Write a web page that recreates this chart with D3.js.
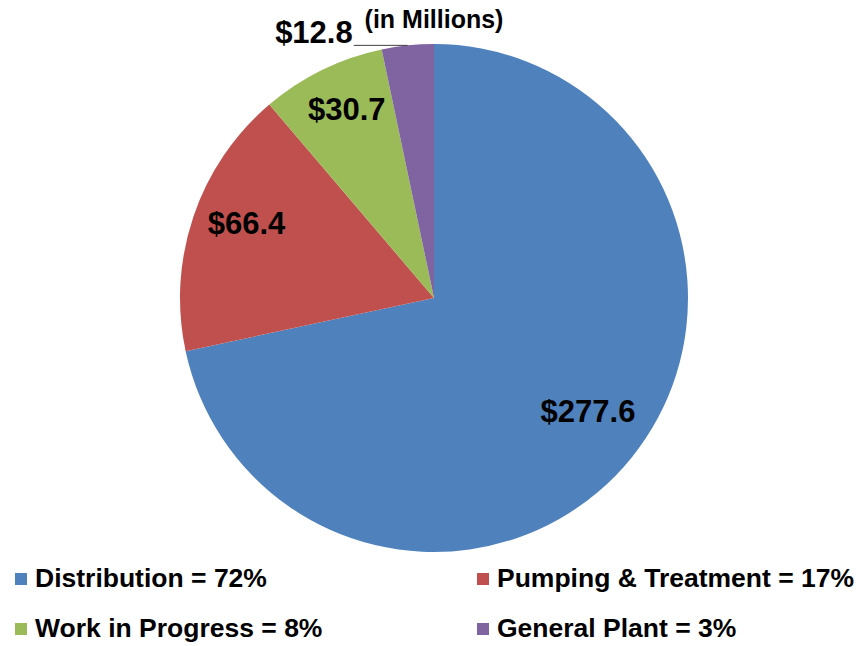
<!DOCTYPE html>
<html>
<head>
<meta charset="utf-8">
<script src="https://cdn.jsdelivr.net/npm/d3@7"></script>
<style>
  html, body { margin: 0; padding: 0; background: #fff; }
  svg text { font-family: "Liberation Sans", Arial, sans-serif; font-weight: bold; fill: #000; }
</style>
</head>
<body>
<div id="chart"></div>
<script>
// values in millions of dollars
const categories = ["Distribution", "Pumping & Treatment", "Work in Progress", "General Plant"];
const values = [277.6, 66.4, 30.7, 12.8];
const colors = ["#4F81BD", "#C0504D", "#9BBB59", "#8064A2"];
const subtitle = "(in Millions)";

const width = 862, height = 646;
const cx = 434, cy = 298, radius = 254;

const svg = d3.select("#chart")
  .append("svg")
  .attr("width", width)
  .attr("height", height);

const total = d3.sum(values);
const data = categories.map((c, i) => ({ name: c, value: values[i], color: colors[i] }));

const pie = d3.pie().value(d => d.value).sort(null);
const arcs = pie(data);
const arc = d3.arc().innerRadius(0).outerRadius(radius);
const labelArc = d3.arc().innerRadius(198).outerRadius(198);

const g = svg.append("g").attr("transform", "translate(" + cx + "," + cy + ")");

// slices
g.selectAll("path")
  .data(arcs)
  .enter()
  .append("path")
  .attr("d", arc)
  .attr("fill", d => d.data.color);

// labels inside slices (the small last one goes outside with a leader)
const fmt = d => "$" + d3.format(".1f")(d.data.value);
const inside = arcs.slice(0, 3);
g.selectAll("text.val")
  .data(inside)
  .enter()
  .append("text")
  .attr("class", "val")
  .attr("x", d => labelArc.centroid(d)[0])
  .attr("y", d => labelArc.centroid(d)[1])
  .attr("text-anchor", "middle")
  .style("font-size", "31px")
  .text(fmt);

// outside label for General Plant
const last = arcs[3];
const mid = (last.startAngle + last.endAngle) / 2;
const edgeX = Math.sin(mid) * radius, edgeY = -Math.cos(mid) * radius;
g.append("line")
  .attr("x1", edgeX).attr("y1", edgeY)
  .attr("x2", edgeX - 54).attr("y2", edgeY)
  .attr("stroke", "#404040")
  .attr("stroke-width", 1);
g.append("text")
  .attr("x", edgeX - 55)
  .attr("y", edgeY - 2)
  .attr("text-anchor", "end")
  .style("font-size", "31px")
  .text(fmt(last));

// subtitle
svg.append("text")
  .attr("x", cx)
  .attr("y", 28)
  .attr("text-anchor", "middle")
  .style("font-size", "25px")
  .text(subtitle);

// legend, two columns
const legend = svg.append("g");
const colX = [15, 477], rowY = [587, 637];
const items = legend.selectAll("g")
  .data(data)
  .enter()
  .append("g")
  .attr("transform", (d, i) => "translate(" + colX[i % 2] + "," + rowY[Math.floor(i / 2)] + ")");
items.append("rect")
  .attr("x", 0).attr("y", -14)
  .attr("width", 12).attr("height", 12)
  .attr("fill", d => d.color);
items.append("text")
  .attr("x", 20)
  .attr("y", 0)
  .style("font-size", "26.5px")
  .text(d => d.name + " = " + Math.round(d.value / total * 100) + "%");
</script>
</body>
</html>
